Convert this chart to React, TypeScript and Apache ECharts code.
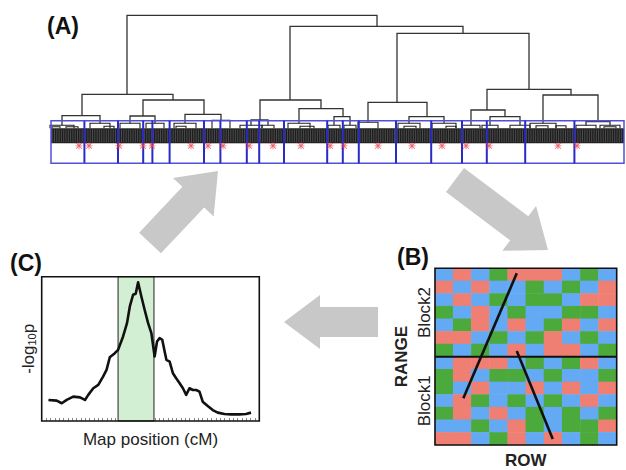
import React, { useEffect, useRef } from 'react';
import * as echarts from 'echarts';

const FONT = '"Liberation Sans", Arial, Helvetica, sans-serif';

// ---------- Panel A : dendrogram (x = leaf position, h = merge height) ----------
const linkLeftX = [127, 82, 290, 260, 397, 368, 487, 471, 543, 62, 143, 130, 185, 299, 334, 409, 490, 586, 251];
const linkRightX = [377, 173, 463, 321, 529, 427, 571, 505, 598, 100, 204, 155, 221, 343, 350, 444, 520, 610, 268];
const linkHeight = [148, 69, 137, 63.3, 130, 61, 74, 53.3, 68.3, 47.6, 63.3, 47.3, 49, 54.6, 46.6, 46.6, 46.6, 41.6, 43.3];
const linkLeftBottom = [69, 47.6, 63.3, 43.3, 61, 41, 53.3, 38, 40, 38, 47.3, 40, 40, 40, 38, 40, 38, 38, 38];
const linkRightBottom = [137, 63.3, 130, 54.6, 74, 46.6, 68.3, 46.6, 41.6, 40, 49, 40, 43, 46.6, 38, 40, 38, 38, 38];

// small clusters just above the leaves
const minorLeftX = [50, 90, 120, 146, 174, 212, 240, 262, 288, 328, 344, 358, 398, 432, 462, 482, 510, 530, 576, 600, 52, 66, 104, 176, 300, 404, 446, 536, 556, 604];
const minorRightX = [74, 110, 140, 164, 196, 230, 262, 274, 310, 340, 356, 378, 420, 456, 480, 498, 530, 556, 596, 620, 60, 78, 114, 186, 314, 416, 456, 548, 566, 616];
const minorHeight = [38, 40, 40, 40, 40, 43, 38, 38, 40, 38, 38, 41, 40, 40, 38, 38, 38, 40, 38, 38, 36.5, 36.5, 37, 37, 37, 37, 37, 37.5, 37.5, 36.5];
const leafTop = 35;
const leafBottom = 20;

// blocks
const boxLeft = 51;
const boxRight = 624;
const boxTop = 42.6;
const blockDividers = [84.4, 118, 143.2, 152.4, 169.6, 204, 220.4, 246.8, 259.2, 284, 327.2, 342.8, 358.8, 396, 431.2, 462, 486.8, 525.2, 574.4];
const starX = [79, 89, 119, 143, 152, 191, 208, 223, 249, 273, 301, 330, 344, 378, 412, 442, 466, 489, 558, 577];
const starH = 17.5;

// ---------- Panel B : field layout ----------
const rowCats = ['1', '2', '3', '4', '5', '6', '7', '8', '9', '10'];
const rangeCats = ['1', '2', '3', '4', '5', '6', '7', '8', '9', '10', '11', '12', '13', '14'];
// B = blue, R = red, G = green ; listed from the top range down
const fieldRows = [
  'BRBGRRRBGB',
  'RBRBBGBGBR',
  'BRBGBGGBRR',
  'GBRBGBBGGB',
  'BGRBRBGRBR',
  'RRBGBGRBGB',
  'GBGBRBRRBG',
  'BRRRBGBGRB',
  'GRBGGBGBBG',
  'GBRBBRBRBR',
  'BRGBGBGBRB',
  'GRBRBGBGBG',
  'BBGBRGBGGR',
  'RRBGRBRBGB',
];
const codeValue = { B: 0, R: 1, G: 2 };
const line1 = [[4.5, 13.6], [1.56, 3.7]];
const line2 = [[4.5, 7.45], [6.48, 0.48]];
const blockDivide = [[0, 7], [10, 7]];

// ---------- Panel C : association profile ----------
const mapPos = [3.1, 6.9, 9.2, 11.5, 14.5, 17.6, 19.9, 21.4, 23.7, 26.0, 28.2, 29.8, 31.3, 33.6, 35.1, 37.4, 39.2, 40.5, 42.0, 43.2, 44.3, 45.8, 47.3, 48.9, 50.4, 51.9, 53.0, 54.2, 55.4, 56.5, 57.3, 58.8, 60.3, 61.8, 63.4, 64.9, 66.4, 67.9, 69.5, 71.0, 72.5, 74.0, 76.3, 78.6, 80.9, 84.0, 87.0, 90.8, 93.9, 96.2];
const logP = [1.46, 1.41, 1.23, 1.46, 1.69, 1.64, 1.46, 1.81, 2.27, 2.5, 3.08, 3.54, 4.42, 4.7, 4.93, 5.86, 6.78, 7.94, 8.75, 8.82, 9.61, 8.63, 7.71, 6.78, 6.09, 4.47, 5.51, 5.74, 5.63, 4.81, 4.24, 4.12, 3.31, 2.96, 2.62, 2.27, 1.81, 2.27, 2.15, 2.15, 2.04, 1.34, 1.04, 0.76, 0.58, 0.49, 0.46, 0.46, 0.49, 0.58];
const qtlInterval = [35.1, 51.6];

const BLUE = '#63a9f3';
const SALMON = '#ee7f72';
const GREEN = '#4caa3d';
const ARROW = '#c8c8c8';

function arrowPoints(fx: number, fy: number, tx: number, ty: number, shaft: number, head: number, headLen: number) {
  const len = Math.hypot(tx - fx, ty - fy);
  const dx = (tx - fx) / len;
  const dy = (ty - fy) / len;
  const nx = -dy;
  const ny = dx;
  const bx = tx - dx * headLen;
  const by = ty - dy * headLen;
  return [
    [fx + nx * shaft, fy + ny * shaft],
    [bx + nx * shaft, by + ny * shaft],
    [bx + nx * head, by + ny * head],
    [tx, ty],
    [bx - nx * head, by - ny * head],
    [bx - nx * shaft, by - ny * shaft],
    [fx - nx * shaft, fy - ny * shaft],
  ];
}

export default function App() {
  const ref = useRef<HTMLDivElement>(null);
  useEffect(() => {
    if (!ref.current) return;
    const chart = echarts.init(ref.current, undefined, { renderer: 'svg' });

    const links = linkLeftX.map((x, i) => [x, linkRightX[i], linkHeight[i], linkLeftBottom[i], linkRightBottom[i]]);
    const minors = minorLeftX.map((x, i) => [x, minorRightX[i], minorHeight[i], leafTop, leafTop]);
    const edges = [boxLeft, ...blockDividers, boxRight];
    const segments = edges.slice(0, -1).map((x, i) => [x, edges[i + 1]]);
    const heat: number[][] = [];
    fieldRows.forEach((row, r) => {
      row.split('').forEach((c, col) => {
        heat.push([col, rangeCats.length - 1 - r, (codeValue as any)[c]]);
      });
    });

    const linkRender = (width: number, color: string) => (params: any, api: any) => {
      const x1 = api.value(0), x2 = api.value(1), h = api.value(2), lb = api.value(3), rb = api.value(4);
      const pts = [api.coord([x1, lb]), api.coord([x1, h]), api.coord([x2, h]), api.coord([x2, rb])];
      return { type: 'polyline', shape: { points: pts }, style: { stroke: color, lineWidth: width, fill: 'none' } };
    };

    const option: any = {
      animation: false,
      backgroundColor: '#ffffff',
      textStyle: { fontFamily: FONT },
      grid: [
        { left: 0, top: 13.3, width: 626, height: 150 },
        { left: 435, top: 268.3, width: 181.7, height: 176.7 },
        { left: 435, top: 268.3, width: 181.7, height: 176.7, show: true, borderColor: '#111', borderWidth: 1.6, backgroundColor: 'transparent', z: 10 },
        { left: 41.7, top: 276.7, width: 217.6, height: 144.3, show: true, borderColor: '#111', borderWidth: 1.6, backgroundColor: 'transparent', z: 10 },
      ],
      xAxis: [
        { type: 'value', gridIndex: 0, min: 0, max: 626, show: false },
        { type: 'category', gridIndex: 1, data: rowCats, show: false },
        {
          type: 'value', gridIndex: 2, min: 0, max: 10, name: 'ROW', nameLocation: 'middle', nameGap: 7,
          nameTextStyle: { fontSize: 17, fontWeight: 'bold', color: '#222', fontFamily: FONT },
          axisLine: { show: false }, axisTick: { show: false }, axisLabel: { show: false }, splitLine: { show: false },
        },
        {
          type: 'value', gridIndex: 3, min: 0, max: 100, interval: 2, name: 'Map position (cM)', nameLocation: 'middle', nameGap: 10,
          nameTextStyle: { fontSize: 17, color: '#222', fontFamily: FONT, verticalAlign: 'top' },
          axisLine: { show: false }, axisTick: { show: true, inside: true, length: 3, lineStyle: { color: '#888', width: 1 } },
          axisLabel: { show: false }, splitLine: { show: false },
        },
      ],
      yAxis: [
        { type: 'value', gridIndex: 0, min: 0, max: 150, show: false },
        { type: 'category', gridIndex: 1, data: rangeCats, show: false },
        {
          type: 'value', gridIndex: 2, min: 0, max: 14, interval: 3.5, name: 'RANGE', nameLocation: 'middle', nameGap: 25,
          nameTextStyle: { fontSize: 17, fontWeight: 'bold', color: '#222', fontFamily: FONT },
          axisLine: { show: false }, axisTick: { show: false }, splitLine: { show: false },
          axisLabel: {
            show: true, rotate: 90, margin: 2, fontSize: 17, color: '#222', fontFamily: FONT,
            formatter: (v: number) => (v === 3.5 ? 'Block1' : v === 10.5 ? 'Block2' : ''),
          },
        },
        {
          type: 'value', gridIndex: 3, min: 0, max: 10, name: '-log{s|10}p', nameLocation: 'middle', nameGap: 4,
          nameTextStyle: { fontSize: 17, color: '#222', fontFamily: FONT, rich: { s: { fontSize: 11, verticalAlign: 'bottom', padding: [8, 0, 0, 0], fontFamily: FONT, color: '#222' } } },
          axisLine: { show: false }, axisTick: { show: false }, axisLabel: { show: false }, splitLine: { show: false },
        },
      ],
      visualMap: {
        type: 'piecewise', show: false, seriesIndex: 5, dimension: 2,
        pieces: [{ value: 0, color: BLUE }, { value: 1, color: SALMON }, { value: 2, color: GREEN }],
      },
      series: [
        // 0 leaves
        {
          type: 'custom', xAxisIndex: 0, yAxisIndex: 0, data: segments, encode: { x: [0, 1] }, silent: true,
          renderItem: (params: any, api: any) => {
            const a = api.coord([api.value(0), leafTop]);
            const b = api.coord([api.value(1), leafBottom]);
            const children: any[] = [
              { type: 'rect', shape: { x: a[0], y: a[1], width: b[0] - a[0], height: b[1] - a[1] }, style: { fill: '#1e1e1e' } },
            ];
            for (let x = a[0] + 1.2; x < b[0] - 0.5; x += 2.3) {
              children.push({ type: 'line', shape: { x1: x, y1: a[1] + 1, x2: x, y2: b[1] - 1 }, style: { stroke: '#777', lineWidth: 0.5 } });
            }
            return { type: 'group', children };
          },
        },
        // 1 minor links
        { type: 'custom', xAxisIndex: 0, yAxisIndex: 0, data: minors, encode: { x: [0, 1], y: [2] }, renderItem: linkRender(1.1, '#222'), silent: true },
        // 2 main links
        { type: 'custom', xAxisIndex: 0, yAxisIndex: 0, data: links, encode: { x: [0, 1], y: [2] }, renderItem: linkRender(1.3, '#333'), silent: true },
        // 3 block frame + dividers
        {
          type: 'custom', xAxisIndex: 0, yAxisIndex: 0, data: blockDividers.map((x) => [x]), encode: { x: [0] }, silent: true,
          renderItem: (params: any, api: any) => {
            const t = api.coord([api.value(0), boxTop]);
            const b = api.coord([api.value(0), 0]);
            const items: any[] = [{ type: 'line', shape: { x1: t[0], y1: t[1], x2: b[0], y2: b[1] }, style: { stroke: '#2a2ac8', lineWidth: 2 } }];
            if (params.dataIndex === 0) {
              const p1 = api.coord([boxLeft, boxTop]);
              const p2 = api.coord([boxRight, 0]);
              items.push({ type: 'rect', shape: { x: p1[0], y: p1[1], width: p2[0] - p1[0], height: p2[1] - p1[1] }, style: { stroke: '#5050d8', lineWidth: 1.5, fill: 'none' } });
            }
            return { type: 'group', children: items };
          },
        },
        // 4 significant markers
        {
          type: 'scatter', xAxisIndex: 0, yAxisIndex: 0, data: starX.map((x) => [x, starH]), symbolSize: 7,
          symbol: 'path://M4.4,0h1.2v10h-1.2z M0,4.4h10v1.2h-10z M1.2,0.4l8.4,8.4l-0.8,0.8l-8.4,-8.4z M8.8,0.4l0.8,0.8l-8.4,8.4l-0.8,-0.8z',
          itemStyle: { color: '#e8404a' }, silent: true,
        },
        // 5 heatmap
        { type: 'heatmap', xAxisIndex: 1, yAxisIndex: 1, data: heat, silent: true },
        // 6-8 lines in field
        { type: 'line', xAxisIndex: 2, yAxisIndex: 2, data: blockDivide, symbol: 'none', lineStyle: { color: '#111', width: 2 }, z: 11, silent: true },
        { type: 'line', xAxisIndex: 2, yAxisIndex: 2, data: line1, symbol: 'none', lineStyle: { color: '#111', width: 2.6 }, z: 11, silent: true },
        { type: 'line', xAxisIndex: 2, yAxisIndex: 2, data: line2, symbol: 'none', lineStyle: { color: '#111', width: 2.6 }, z: 11, silent: true },
        // 9 profile
        {
          type: 'line', xAxisIndex: 3, yAxisIndex: 3, data: mapPos.map((x, i) => [x, logP[i]]), symbol: 'none',
          lineStyle: { color: '#111', width: 2.6, join: 'round' }, silent: true,
          markArea: {
            silent: true,
            itemStyle: { color: '#d3efd3', borderColor: '#222', borderWidth: 1 },
            data: [[{ xAxis: qtlInterval[0] }, { xAxis: qtlInterval[1] }]],
          },
        },
      ],
      graphic: [
        { type: 'polygon', shape: { points: arrowPoints(150, 243, 218, 171, 15, 28, 36) }, style: { fill: ARROW }, z: -1 },
        { type: 'polygon', shape: { points: arrowPoints(455, 180, 548, 250, 15, 28, 36) }, style: { fill: ARROW }, z: -1 },
        { type: 'polygon', shape: { points: arrowPoints(378, 322, 284, 322, 15, 27, 36) }, style: { fill: ARROW }, z: -1 },
        { type: 'text', left: 47, top: 14, style: { text: '(A)', font: `bold 23px ${FONT}`, fill: '#111' } },
        { type: 'text', left: 397, top: 245, style: { text: '(B)', font: `bold 23px ${FONT}`, fill: '#111' } },
        { type: 'text', left: 10, top: 251, style: { text: '(C)', font: `bold 23px ${FONT}`, fill: '#111' } },
      ],
    };
    chart.setOption(option);
    return () => chart.dispose();
  }, []);
  return <div ref={ref} style={{ position: 'absolute', left: 0, top: 0, width: 626, height: 470 }} />;
}
